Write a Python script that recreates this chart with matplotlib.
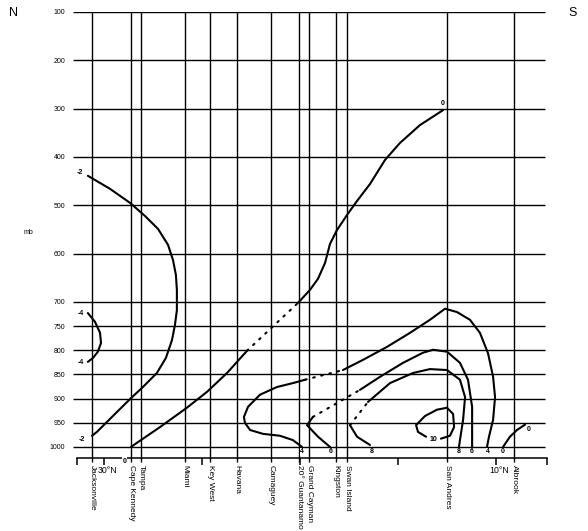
import matplotlib
matplotlib.use("Agg")
import matplotlib.pyplot as plt

plt.rcParams['font.family'] = ['Liberation Sans', 'DejaVu Sans']

# pressure levels (mb) drawn as horizontal lines
levels = [100, 200, 300, 400, 500, 600, 700, 750, 800, 850, 900, 950, 1000]

# stations along the section and their latitude (deg N)
stations = ["Jacksonville", "Cape Kennedy", "Tampa", "Miami", "Key West", "Havana",
            "Camaguey", "20° Guantanamo", "Grand Cayman", "Kingston", "Swan Island",
            "San Andres", "Albrook"]
station_lat = [30.61, 28.62, 28.11, 25.87, 24.59, 23.21, 21.48, 20.05, 19.54,
               18.16, 17.60, 12.50, 9.08]

lat_ticks = [31.38, 30, 25, 20, 15, 10, 7.40]

# isotachs, (lat, mb); the dotted parts join the end of one piece to the next
m2_lat = [30.82, 29.69, 28.67, 27.91, 27.24, 26.73, 26.48, 26.33, 26.28, 26.28,
          26.38, 26.53, 26.84, 27.30, 28.01, 28.67, 29.54, 30.36, 30.61]
m2_p = [439, 466, 495, 522, 549, 582, 613, 644, 675, 717,
        748, 779, 816, 847, 876, 901, 936, 969, 977]

m4_lat = [30.82, 30.46, 30.20, 30.15, 30.31, 30.56, 30.82]
m4_p = [723, 741, 764, 785, 803, 816, 824]

z_lo_lat = [28.62, 27.14, 25.77, 24.74, 23.72, 22.70]
z_lo_p = [1000, 959, 919, 886, 847, 801]
z_hi_lat = [20.10, 19.49, 19.08, 18.72, 18.47, 18.11, 17.60, 17.09, 16.43, 15.66,
            14.90, 13.88, 12.70]
z_hi_p = [702, 675, 652, 619, 580, 551, 520, 491, 456, 406, 371, 334, 303]

z_s_lat = [9.64, 9.29, 8.93, 8.52]
z_s_p = [1000, 979, 965, 954]

f_lo_lat = [19.90, 20.36, 21.02, 21.89, 22.55, 22.81, 22.86, 22.65, 22.04, 21.17,
            20.36, 19.74]
f_lo_p = [1000, 986, 977, 973, 965, 950, 938, 917, 892, 876, 868, 861]
f_hi_lat = [17.81, 16.79, 15.56, 14.39, 13.37, 12.60, 11.99, 11.33, 10.82, 10.41,
            10.15, 10.05, 10.15, 10.36, 10.46]
f_hi_p = [841, 820, 793, 764, 737, 714, 721, 737, 764, 806, 855, 897, 944, 979, 1000]

s_lo_lat = [18.47, 19.08, 19.64, 19.34]
s_lo_p = [1000, 979, 955, 938]
s_hi_lat = [16.94, 15.92, 14.74, 13.72, 13.21, 12.50, 11.84, 11.43, 11.22, 11.22, 11.22]
s_hi_p = [882, 855, 826, 805, 799, 803, 826, 861, 917, 950, 1000]

e_lo_lat = [16.43, 17.09, 17.45]
e_lo_p = [996, 979, 955]
e_hi_lat = [16.53, 15.41, 14.23, 13.37, 12.50, 11.84, 11.58, 11.68, 11.84, 11.89]
e_hi_p = [907, 868, 847, 839, 841, 861, 897, 944, 986, 1000]

t_lat = [12.81, 12.35, 12.14, 12.19, 12.50, 13.01, 13.62, 14.08, 13.98, 13.57]
t_p = [983, 977, 959, 932, 919, 923, 936, 955, 969, 979]

# contour labels: text, lat, mb
iso_labels = [("-2", 31.22, 433), ("-2", 31.12, 985), ("-4", 31.17, 723),
              ("-4", 31.17, 826), ("0", 12.70, 290), ("0", 28.95, 1030),
              ("4", 19.90, 1010), ("6", 18.42, 1010), ("8", 16.33, 1010),
              ("8", 11.89, 1010), ("6", 11.22, 1010), ("4", 10.41, 1010),
              ("0", 9.64, 1010), ("0", 8.32, 965), ("10", 13.20, 985)]

fig = plt.figure(figsize=(5.88, 5.31), dpi=100)
ax = fig.add_axes([72 / 588, 1 - 458 / 531, 475 / 588, 446 / 531])
ax.set_xlim(31.63, 7.40)
ax.set_ylim(1023, 100)

ax.hlines(levels, 31.58, 7.50, color='black', lw=1.0)
ax.vlines(station_lat, 100, 1031, color='black', lw=1.0, clip_on=False)

solid = dict(color='black', lw=1.5, solid_capstyle='round', solid_joinstyle='round')
dots = dict(color='black', lw=1.5, linestyle=(0, (0.8, 3.2)), dash_capstyle='round')

for la, pr in [(m2_lat, m2_p), (m4_lat, m4_p), (z_lo_lat, z_lo_p), (z_hi_lat, z_hi_p),
               (z_s_lat, z_s_p), (f_lo_lat, f_lo_p), (f_hi_lat, f_hi_p),
               (s_lo_lat, s_lo_p), (s_hi_lat, s_hi_p), (e_lo_lat, e_lo_p),
               (e_hi_lat, e_hi_p), (t_lat, t_p)]:
    ax.plot(la, pr, **solid)

for la, pr, la2, pr2 in [(z_lo_lat, z_lo_p, z_hi_lat, z_hi_p),
                         (f_lo_lat, f_lo_p, f_hi_lat, f_hi_p),
                         (s_lo_lat, s_lo_p, s_hi_lat, s_hi_p),
                         (e_lo_lat, e_lo_p, e_hi_lat, e_hi_p)]:
    ax.plot([la[-1], la2[0]], [pr[-1], pr2[0]], **dots)

for txt, la, pr in iso_labels:
    ax.text(la, pr, txt, fontsize=5, fontweight='bold', ha='center', va='center',
            clip_on=False, bbox=dict(facecolor='white', edgecolor='none', pad=0.3))

for sp in ['top', 'left', 'right']:
    ax.spines[sp].set_visible(False)
ax.spines['bottom'].set_bounds(31.38, 7.40)
ax.spines['bottom'].set_linewidth(1.1)
ax.set_xticks(lat_ticks)
ax.set_xticklabels([])
ax.tick_params(axis='x', direction='out', length=5, width=1.1)

ax.set_yticks(levels)
ax.set_yticklabels([str(v) for v in levels], fontsize=5)
ax.tick_params(axis='y', length=0, pad=5)

xt = ax.get_xaxis_transform()
for name, la in zip(stations, station_lat):
    ax.text(la, -0.015, name, transform=xt, rotation=-90, ha='center', va='top',
            fontsize=6)
ax.text(29.80, -0.027, "30°N", transform=xt, ha='center', va='center', fontsize=6.3)
ax.text(9.85, -0.027, "10°N", transform=xt, ha='center', va='center', fontsize=6.3)

fig.text(13 / 588, 1 - 13 / 531, "N", ha='center', va='center', fontsize=9)
fig.text(573 / 588, 1 - 13 / 531, "S", ha='center', va='center', fontsize=9)
fig.text(28 / 588, 1 - 233 / 531, "mb", ha='center', va='center', fontsize=5)

fig.savefig("out.png", dpi=100)
